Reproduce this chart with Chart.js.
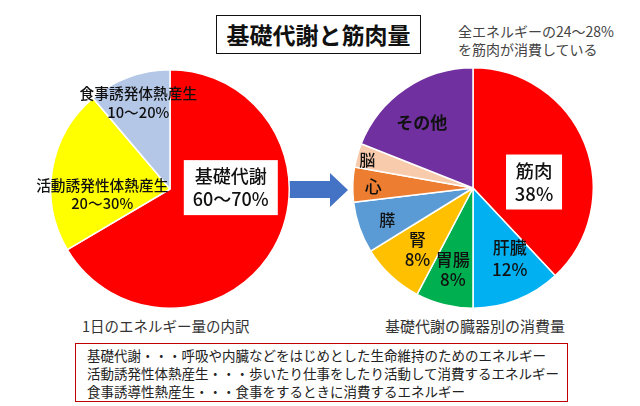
<!DOCTYPE html>
<html><head><meta charset="utf-8">
<script src="https://cdn.jsdelivr.net/npm/chart.js@4/dist/chart.umd.min.js"></script>
<style>
html,body{margin:0;padding:0;background:#fff;}
body{width:640px;height:406px;position:relative;overflow:hidden;font-family:"Noto Sans CJK JP","Noto Sans",sans-serif;color:#222;}
.abs{position:absolute;}
#title{left:216px;top:15px;width:205px;height:39px;border:1.5px solid #111;box-sizing:border-box;font-weight:bold;font-size:23px;line-height:36px;text-align:center;color:#111;}
#sub{left:458px;top:22px;font-size:14px;line-height:18px;color:#444;}
.cap{font-size:14.5px;color:#333;line-height:18px;white-space:nowrap;}
#foot{left:75px;top:343px;width:493px;height:59px;border:1.5px solid #c00000;box-sizing:border-box;font-size:13.5px;line-height:18px;padding:2px 0 0 11px;color:#222;white-space:nowrap;}
#c1wrap{left:30px;top:49px;width:280px;height:280px;z-index:2;}
#c2wrap{left:332px;top:47px;width:282px;height:282px;z-index:2;}
svg{z-index:1;}
</style></head>
<body>
<div id="title" class="abs">基礎代謝と筋肉量</div>
<div id="sub" class="abs">全エネルギーの24～28%<br>を筋肉が消費している</div>
<svg class="abs" style="left:0;top:0" width="640" height="406"><polygon points="270,181 330,181 330,173 348,190 330,207 330,198 270,198" fill="#4472C4"/></svg>
<div id="c1wrap" class="abs"><canvas id="c1"></canvas></div>
<div id="c2wrap" class="abs"><canvas id="c2"></canvas></div>
<div class="abs cap" style="left:82px;top:317px;">1日のエネルギー量の内訳</div>
<div class="abs cap" style="left:385px;top:317px;font-size:15px;">基礎代謝の臓器別の消費量</div>
<div id="foot" class="abs">基礎代謝・・・呼吸や内臓などをはじめとした生命維持のためのエネルギー<br>活動誘発性体熱産生・・・歩いたり仕事をしたり活動して消費するエネルギー<br>食事誘導性熱産生・・・食事をするときに消費するエネルギー</div>
<script>
// ---- data ----
const leftCategories = ['基礎代謝', '活動誘発性体熱産生', '食事誘発体熱産生'];
const leftValues = [66.5, 22.3, 11.2];
const leftTexts = [['基礎代謝', '60～70%'], ['活動誘発性体熱産生', '20～30%'], ['食事誘発体熱産生', '10～20%']];

const rightCategories = ['筋肉', '肝臓', '胃腸', '腎', '膵', '心', '脳', 'その他'];
const rightValues = [38, 12, 7.7, 8.5, 6.9, 4.7, 3.2, 19];
const rightTexts = [['筋肉', '38%'], ['肝臓', '12%'], ['胃腸', '8%'], ['腎', '8%'], ['膵'], ['心'], ['脳'], ['その他']];

// ---- styles ----
const leftColors = ['#FF0000', '#FFFF00', '#B4C7E7'];
const rightColors = ['#FF0000', '#00B0F0', '#00B050', '#FFC000', '#5B9BD5', '#ED7D31', '#F8CBAD', '#7030A0'];
// label placement: radial fraction, angle offset (deg), font size, line height, box
const leftLabelStyle = [
  {frac: 0.51, dAng: -31, size: 18, lh: 23, box: [94, 55]},
  {frac: 0.57, dAng: -14, size: 14.7, lh: 18},
  {frac: 0.77, dAng: 0, size: 14.7, lh: 19}
];
const rightLabelStyle = [
  {frac: 0.51, dAng: 16, size: 18.5, lh: 23, box: [56, 55]},
  {frac: 0.66, dAng: -6, size: 17, lh: 22},
  {frac: 0.70, dAng: 0, size: 17, lh: 20},
  {frac: 0.69, dAng: -1, size: 17, lh: 20},
  {frac: 0.76, dAng: -1, size: 16, lh: 20},
  {frac: 0.83, dAng: -1, size: 17, lh: 20},
  {frac: 0.91, dAng: -1, size: 16, lh: 20},
  {frac: 0.69, dAng: -4, size: 17, lh: 20, weight: 'bold'}
];

function labelPlugin(texts, styles) {
  return {
    id: 'sliceLabels',
    afterDatasetsDraw(chart) {
      const ctx = chart.ctx;
      const meta = chart.getDatasetMeta(0);
      meta.data.forEach((arc, i) => {
        const p = arc.getProps(['x', 'y', 'startAngle', 'endAngle', 'outerRadius'], true);
        const st = styles[i];
        const mid = (p.startAngle + p.endAngle) / 2 + st.dAng * Math.PI / 180;
        const cx = p.x + Math.cos(mid) * p.outerRadius * st.frac;
        const cy = p.y + Math.sin(mid) * p.outerRadius * st.frac;
        const lines = texts[i];
        ctx.save();
        if (st.box) {
          ctx.fillStyle = '#ffffff';
          ctx.fillRect(cx - st.box[0] / 2, cy - st.box[1] / 2, st.box[0], st.box[1]);
        }
        ctx.fillStyle = '#111';
        ctx.textAlign = 'center';
        ctx.textBaseline = 'middle';
        ctx.font = (st.weight || '500') + ' ' + st.size + 'px "Noto Sans CJK JP", sans-serif';
        const y0 = cy - (lines.length - 1) * st.lh / 2;
        lines.forEach((t, k) => ctx.fillText(t, cx, y0 + k * st.lh));
        ctx.restore();
      });
    }
  };
}

function makePie(id, cats, vals, colors, texts, styles) {
  return new Chart(document.getElementById(id), {
    type: 'pie',
    data: {labels: cats, datasets: [{data: vals, backgroundColor: colors, borderColor: '#ffffff', borderWidth: 1.5}]},
    options: {
      responsive: true, maintainAspectRatio: false, animation: false,
      layout: {padding: 20},
      plugins: {legend: {display: false}, tooltip: {enabled: false}}
    },
    plugins: [labelPlugin(texts, styles)]
  });
}
makePie('c1', leftCategories, leftValues, leftColors, leftTexts, leftLabelStyle);
makePie('c2', rightCategories, rightValues, rightColors, rightTexts, rightLabelStyle);
</script>
</body></html>
